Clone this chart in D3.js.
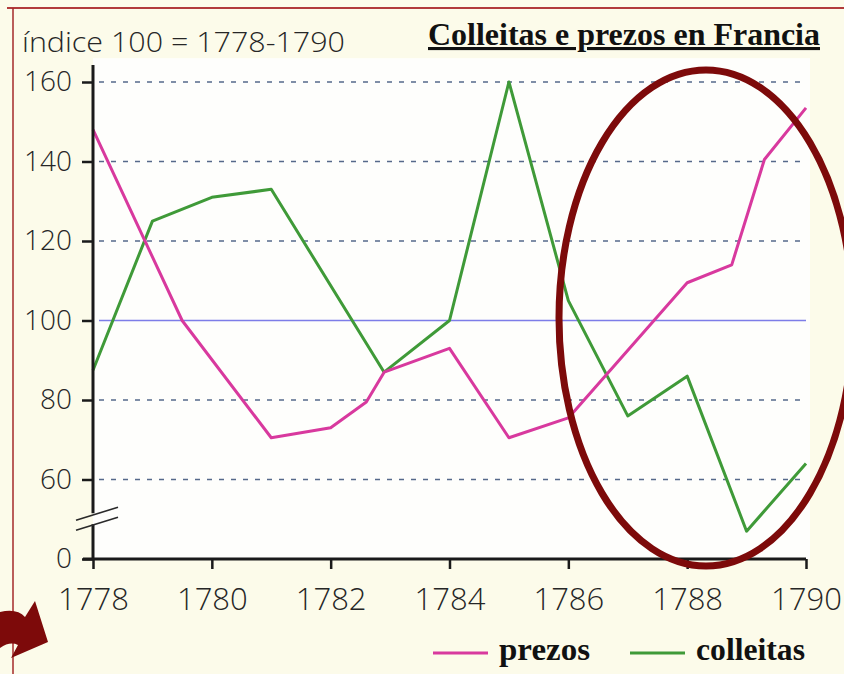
<!DOCTYPE html>
<html>
<head>
<meta charset="utf-8">
<script src="https://cdn.jsdelivr.net/npm/d3@7"></script>
<style>
  html, body { margin: 0; padding: 0; background: #fcfbea; }
  svg { display: block; }
</style>
</head>
<body>
<script>
// ----- DATA -----
const prezosYears = [1778, 1779.5, 1781, 1782, 1782.6, 1782.9, 1784, 1785, 1786, 1788, 1788.75, 1789.3, 1790];
const prezosValues = [148, 100, 70.5, 73, 79.5, 87, 93, 70.5, 75.5, 109.5, 114, 140.5, 153.5];

const colleitasYears = [1778, 1779, 1780, 1781, 1782.9, 1784, 1785, 1786, 1787, 1788, 1789, 1790];
const colleitasValues = [87.5, 125, 131, 133, 87, 100, 160, 105, 76, 86, 47, 64];

const yTicks = [40, 60, 80, 100, 120, 140, 160]; // 40 sits where the broken axis says "0"
const xTicks = [1778, 1780, 1782, 1784, 1786, 1788, 1790];

const w = 844;
const h = 674;

const svg = d3.select("body").
append("svg").
attr("width", w).
attr("height", h);

// ----- SCALES -----
const xScale = d3.scaleLinear().
domain([1778, 1790]).
range([93, 806]);

const yScale = d3.scaleLinear().
domain([40, 160]).
range([559, 82]);

// background + white plot area
svg.append("rect").attr("width", w).attr("height", h).attr("fill", "#fcfbea");
svg.append("rect").
attr("x", xScale(1778)).
attr("y", yScale(166)).
attr("width", xScale(1790) - xScale(1778) + 4).
attr("height", yScale(40) - yScale(166)).
attr("fill", "#fefefc");

// page border lines
svg.append("line").attr("x1", 7).attr("x2", w).attr("y1", 8).attr("y2", 8).
attr("stroke", "#b23b3b").attr("stroke-width", 2);
svg.append("line").attr("x1", 13).attr("x2", 13).attr("y1", 8).attr("y2", h).
attr("stroke", "#a52a2a").attr("stroke-width", 1.5);

// ----- GRID -----
svg.selectAll(".grid").
data(yTicks.filter(d => d > 40)).
enter().
append("line").
attr("class", "grid").
attr("x1", xScale(1778) + 6).
attr("x2", xScale(1790)).
attr("y1", d => yScale(d)).
attr("y2", d => yScale(d)).
attr("stroke", d => d === 100 ? "#7d7de8" : "#56698a").
attr("stroke-width", 1.5).
attr("stroke-dasharray", d => d === 100 ? null : "5,7");

// ----- LINES -----
const line = d3.line().
x(d => xScale(d[0])).
y(d => yScale(d[1]));

svg.append("path").
datum(colleitasYears.map((y, i) => [y, colleitasValues[i]])).
attr("d", line).
attr("fill", "none").
attr("stroke", "#3f9a38").
attr("stroke-width", 3).
attr("stroke-linejoin", "round");

svg.append("path").
datum(prezosYears.map((y, i) => [y, prezosValues[i]])).
attr("d", line).
attr("fill", "none").
attr("stroke", "#d8399e").
attr("stroke-width", 3).
attr("stroke-linejoin", "round");

// ----- AXES -----
const yAxis = d3.axisLeft(yScale).
tickValues(yTicks).
tickSize(11).
tickPadding(10).
tickFormat(d => d === 40 ? "0" : d);

const xAxis = d3.axisBottom(xScale).
tickValues(xTicks).
tickSize(10).
tickPadding(19).
tickFormat(d3.format("d"));

const gy = svg.append("g").
attr("transform", "translate(" + xScale(1778) + ",0)").
call(yAxis);

const gx = svg.append("g").
attr("transform", "translate(0," + yScale(40) + ")").
call(xAxis);

[gx, gy].forEach(g => {
  g.select(".domain").remove();
  g.selectAll(".tick line").attr("stroke", "#1a1a1a").attr("stroke-width", 2.5);
  g.selectAll(".tick text").
  attr("fill", "#262626").
  style("font-family", "'Open Sans', sans-serif").
  style("font-weight", 300);
});
gy.selectAll(".tick text").style("font-size", "28px");
gx.selectAll(".tick text").style("font-size", "31px");

// axis lines, the y one broken between 40 and 60
const breakY = yScale(50);
svg.append("line").
attr("x1", xScale(1778) - 10).attr("x2", xScale(1790)).
attr("y1", yScale(40)).attr("y2", yScale(40)).
attr("stroke", "#1a1a1a").attr("stroke-width", 3);
svg.append("line").
attr("x1", xScale(1778)).attr("x2", xScale(1778)).
attr("y1", yScale(164.3)).attr("y2", breakY - 6).
attr("stroke", "#1a1a1a").attr("stroke-width", 3);
svg.append("line").
attr("x1", xScale(1778)).attr("x2", xScale(1778)).
attr("y1", breakY + 5).attr("y2", yScale(40)).
attr("stroke", "#1a1a1a").attr("stroke-width", 3);

// break marks
[-1, 9].forEach(off => {
  svg.append("line").
  attr("x1", xScale(1778) - 17).attr("y1", breakY + off + 2).
  attr("x2", xScale(1778) + 25).attr("y2", breakY + off - 11).
  attr("stroke", "#2a2a2a").attr("stroke-width", 1.6);
});

// ----- TEXTS -----
svg.append("text").
attr("x", 22).
attr("y", 52).
attr("textLength", 323).
attr("lengthAdjust", "spacingAndGlyphs").
attr("fill", "#262626").
style("font-family", "'Open Sans', sans-serif").
style("font-weight", 300).
style("font-size", "28px").
text("índice 100 = 1778-1790");

svg.append("text").
attr("x", 428).
attr("y", 45).
attr("textLength", 392).
attr("lengthAdjust", "spacingAndGlyphs").
attr("fill", "#111").
style("font-family", "'Liberation Serif', 'Times New Roman', serif").
style("font-weight", "bold").
style("font-size", "31px").
style("text-decoration", "underline").
text("Colleitas e prezos en Francia");

// ----- LEGEND -----
const legendItems = [
  { name: "prezos", color: "#d8399e", x: 433, len: 91 },
  { name: "colleitas", color: "#3f9a38", x: 630, len: 109 }];

const legend = svg.append("g").attr("id", "legend");
legendItems.forEach(d => {
  legend.append("line").
  attr("x1", d.x).attr("x2", d.x + 55).
  attr("y1", 653).attr("y2", 653).
  attr("stroke", d.color).attr("stroke-width", 3);
  legend.append("text").
  attr("x", d.x + 66).
  attr("y", 660).
  attr("textLength", d.len).
  attr("lengthAdjust", "spacingAndGlyphs").
  attr("fill", "#111").
  style("font-family", "'Liberation Serif', 'Times New Roman', serif").
  style("font-weight", "bold").
  style("font-size", "31px").
  text(d.name);
});

// ----- ANNOTATIONS -----
svg.append("ellipse").
attr("cx", 706).
attr("cy", 318).
attr("rx", 147).
attr("ry", 248).
attr("fill", "none").
attr("stroke", "#7d0a0a").
attr("stroke-width", 7);

// curved arrow bottom left
svg.append("path").
attr("d", "M0,612 Q17,608 25,617 L35,601 L48,642 L11,658 L18,645 Q10,641 0,648 Z").
attr("fill", "#7d0a0a");
</script>
</body>
</html>
